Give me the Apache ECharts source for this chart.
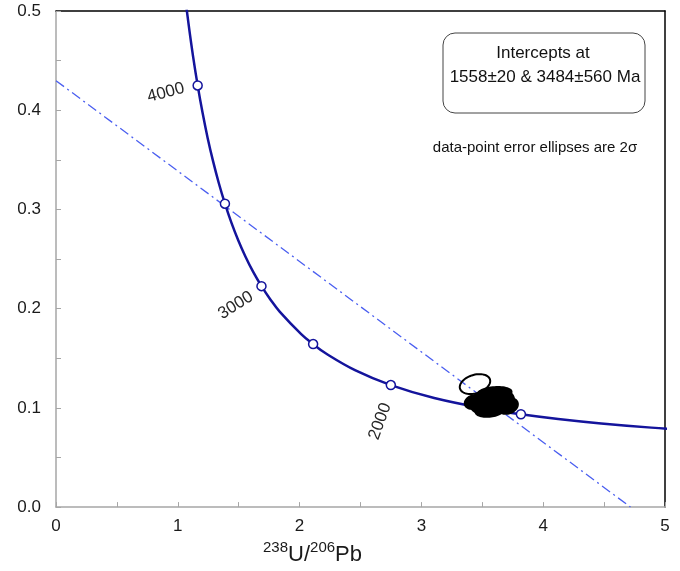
<!DOCTYPE html>
<html>
<head>
<meta charset="utf-8">
<script src="https://cdn.jsdelivr.net/npm/echarts@6/dist/echarts.min.js"></script>
<style>
  html, body { margin: 0; padding: 0; background: #fff; }
  #chart { width: 680px; height: 571px; }
</style>
</head>
<body>
<div id="chart"></div>
<script>
// concordia curve (238U/206Pb, 207Pb/206Pb)
var concordiaX = [1.054, 1.089, 1.125, 1.163, 1.203, 1.245, 1.290, 1.337, 1.387, 1.440, 1.496, 1.556, 1.619, 1.687,
                  1.760, 1.838, 2.013, 2.111, 2.217, 2.459, 2.749, 3.105, 3.550, 3.817, 4.123, 4.476, 4.888, 5.375];
var concordiaY = [0.5203, 0.4862, 0.4545, 0.4250, 0.3976, 0.3721, 0.3484, 0.3264, 0.3058, 0.2867, 0.2690, 0.2524, 0.2370, 0.2227,
                  0.2093, 0.1968, 0.1744, 0.1643, 0.1548, 0.1378, 0.1230, 0.1100, 0.0987, 0.0936, 0.0888, 0.0843, 0.0801, 0.0762];

// age ticks on the concordia (Ma)
var ageTicks = [4000, 3500, 3000, 2500, 2000, 1500];
var ageTickX = [1.163, 1.387, 1.687, 2.111, 2.749, 3.817];
var ageTickY = [0.4250, 0.3058, 0.2227, 0.1643, 0.1230, 0.0936];
var labelledAges = [4000, 3000, 2000];

// discordia (regression line)
var discordiaX = [0, 4.717];
var discordiaY = [0.4298, 0];

// data-point error ellipses: centre, half-widths, correlation
var blobX   = [3.58, 3.43, 3.71, 3.60, 3.56];
var blobY   = [0.106, 0.106, 0.102, 0.115, 0.097];
var blobSX  = [0.18, 0.074, 0.082, 0.14, 0.115];
var blobSY  = [0.013, 0.007, 0.008, 0.006, 0.006];
var blobRho = [0.2, 0.2, 0.2, 0.2, 0.2];
var openX   = [3.44];
var openY   = [0.124];
var openSX  = [0.125];
var openSY  = [0.010];
var openRho = [0.3];

var FONT = 'Arial, "Liberation Sans", sans-serif';
var NAVY = '#14149c';

var chart = echarts.init(document.getElementById('chart'), null, { renderer: 'canvas' });

function pairs(xs, ys) {
  return xs.map(function (x, i) { return [x, ys[i]]; });
}
function ellipseData(xs, ys, sx, sy, rho) {
  return xs.map(function (x, i) { return [x, ys[i], sx[i], sy[i], rho[i]]; });
}
function ellipseRenderer(filled) {
  return function (params, api) {
    var cx = api.value(0), cy = api.value(1), sx = api.value(2), sy = api.value(3), r = api.value(4);
    var pts = [];
    for (var k = 0; k < 60; k++) {
      var t = k / 60 * 2 * Math.PI;
      pts.push(api.coord([cx + sx * Math.cos(t), cy + sy * (r * Math.cos(t) + Math.sqrt(1 - r * r) * Math.sin(t))]));
    }
    return {
      type: 'polygon',
      shape: { points: pts },
      style: { fill: filled ? '#000' : 'none', stroke: '#000', lineWidth: 2 }
    };
  };
}

// where each age label sits relative to its tick (px) and its angle
var ageLabelStyle = {
  4000: { dx: -31, dy: 8, rot: 15 },
  3000: { dx: -25, dy: 20, rot: 32 },
  2000: { dx: -10, dy: 37, rot: 70 }
};

var tickData = ageTicks.map(function (age, i) {
  var item = { value: [ageTickX[i], ageTickY[i]], name: String(age) };
  if (labelledAges.indexOf(age) >= 0) {
    var s = ageLabelStyle[age];
    item.label = {
      show: true,
      formatter: String(age),
      position: [4.5 + s.dx, 4.5 + s.dy],
      align: 'center',
      verticalAlign: 'middle',
      rotate: s.rot,
      fontSize: 17,
      color: '#262626',
      fontFamily: FONT
    };
  }
  return item;
});

var grayAxis = '#a6a6a6';

var option = {
  backgroundColor: '#fff',
  animation: false,
  grid: { left: 56, right: 15, top: 11, bottom: 60, containLabel: false },
  xAxis: [
    {
      type: 'value', min: 0, max: 5, interval: 1, position: 'bottom',
      axisLine: { lineStyle: { color: grayAxis, width: 1.5 } },
      axisTick: { inside: true, length: 5, lineStyle: { color: grayAxis } },
      minorTick: { show: true, splitNumber: 2, length: 5, lineStyle: { color: grayAxis } },
      splitLine: { show: false },
      axisLabel: { fontSize: 17, color: '#1a1a1a', margin: 11, fontFamily: FONT },
      name: '{sup|238}{b|U/}{sup|206}{b|Pb}',
      nameLocation: 'middle',
      nameGap: 28,
      nameTextStyle: {
        padding: [0, 96, 0, 0],
        rich: {
          sup: { fontSize: 15, verticalAlign: 'top', color: '#1a1a1a', fontFamily: FONT, lineHeight: 16 },
          b: { fontSize: 22, verticalAlign: 'bottom', color: '#1a1a1a', fontFamily: FONT, lineHeight: 26 }
        }
      }
    },
    {
      type: 'value', min: 0, max: 5, position: 'top',
      axisLine: { onZero: false, lineStyle: { color: '#000', width: 1.5 } },
      axisTick: { show: false }, axisLabel: { show: false }, splitLine: { show: false }
    }
  ],
  yAxis: [
    {
      type: 'value', min: 0, max: 0.5, interval: 0.1,
      axisLine: { lineStyle: { color: grayAxis, width: 1.5 } },
      axisTick: { inside: true, length: 5, lineStyle: { color: grayAxis } },
      minorTick: { show: true, splitNumber: 2, length: 5, lineStyle: { color: grayAxis } },
      splitLine: { show: false },
      axisLabel: {
        fontSize: 17, color: '#1a1a1a', margin: 15, fontFamily: FONT,
        formatter: function (v) { return v.toFixed(1); }
      }
    },
    {
      type: 'value', min: 0, max: 0.5, position: 'right',
      axisLine: { onZero: false, lineStyle: { color: '#000', width: 1.5 } },
      axisTick: { show: false }, axisLabel: { show: false }, splitLine: { show: false }
    }
  ],
  series: [
    {
      name: 'discordia',
      type: 'line',
      data: pairs(discordiaX, discordiaY),
      symbol: 'none',
      lineStyle: { color: '#4b5ff0', width: 1.3, type: [10, 4, 2, 4] },
      z: 2
    },
    {
      name: 'concordia',
      type: 'line',
      data: pairs(concordiaX, concordiaY),
      symbol: 'none',
      smooth: 0.4,
      clip: true,
      lineStyle: { color: NAVY, width: 2.5 },
      z: 3
    },
    {
      name: 'ellipses',
      type: 'custom',
      data: ellipseData(blobX, blobY, blobSX, blobSY, blobRho),
      renderItem: ellipseRenderer(true),
      encode: { x: 0, y: 1 },
      z: 4
    },
    {
      name: 'open ellipses',
      type: 'custom',
      data: ellipseData(openX, openY, openSX, openSY, openRho),
      renderItem: ellipseRenderer(false),
      encode: { x: 0, y: 1 },
      z: 4
    },
    {
      name: 'age ticks',
      type: 'scatter',
      data: tickData,
      symbol: 'circle',
      symbolSize: 9,
      itemStyle: { color: '#fff', borderColor: NAVY, borderWidth: 1.5, opacity: 1 },
      label: { show: false },
      z: 5
    }
  ],
  graphic: [
    {
      type: 'rect',
      shape: { x: 443, y: 33, width: 202, height: 80, r: 12 },
      style: { fill: '#fff', stroke: '#444', lineWidth: 1 }
    },
    {
      type: 'text', x: 543, y: 53,
      style: { text: 'Intercepts at', fontSize: 17, fontFamily: FONT, fill: '#111', align: 'center', verticalAlign: 'middle' }
    },
    {
      type: 'text', x: 545, y: 77,
      style: { text: '1558±20 & 3484±560 Ma', fontSize: 17, fontFamily: FONT, fill: '#111', align: 'center', verticalAlign: 'middle' }
    },
    {
      type: 'text', x: 535, y: 148,
      style: { text: 'data-point error ellipses are 2σ', fontSize: 15, fontFamily: FONT, fill: '#111', align: 'center', verticalAlign: 'middle' }
    }
  ]
};

chart.setOption(option);
</script>
</body>
</html>
